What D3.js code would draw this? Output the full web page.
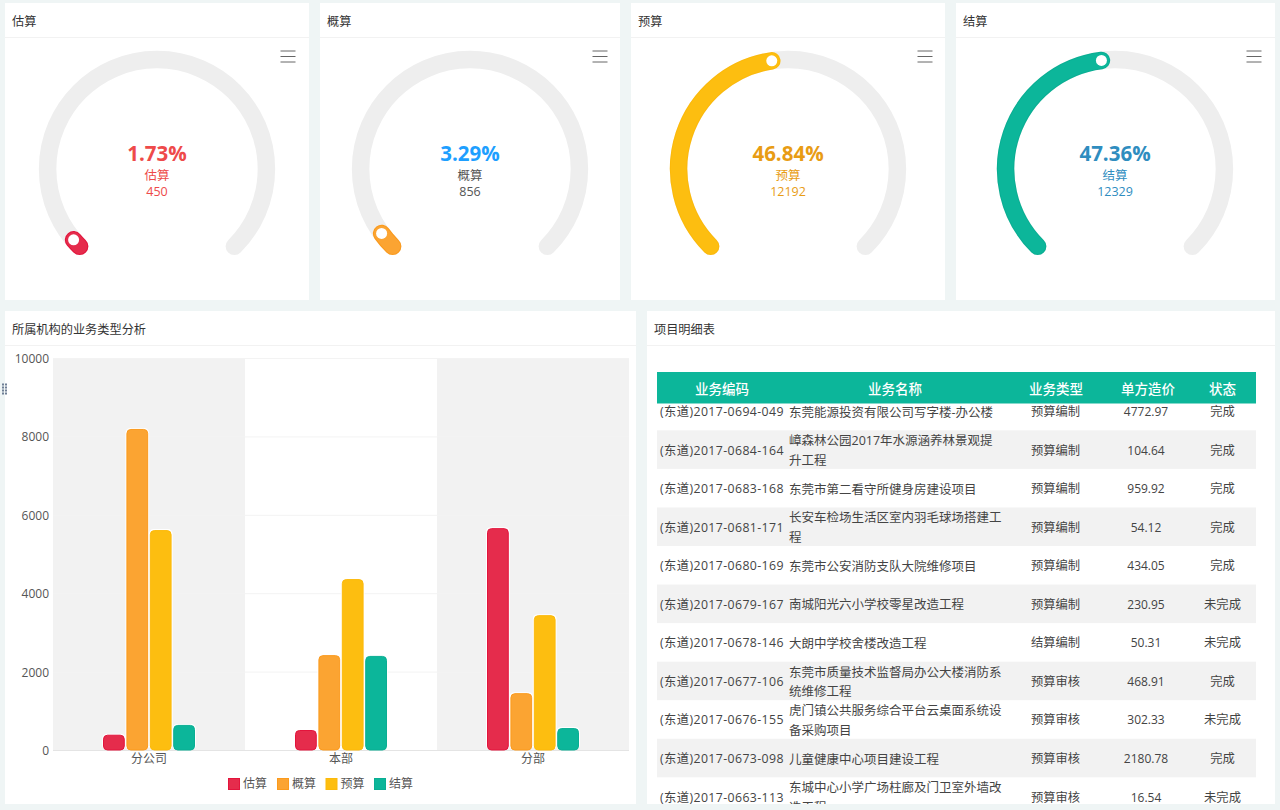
<!DOCTYPE html>
<html>
<head>
<meta charset="utf-8">
<script src="https://cdn.jsdelivr.net/npm/d3@7"></script>
<style>
html, body { margin: 0; padding: 0; background: #eff5f5; overflow: hidden; }
svg { display: block; font-family: "Open Sans", "Noto Sans CJK SC", sans-serif; }
</style>
</head>
<body>
<svg id="page" width="1280" height="810"></svg>
<script>
// gauge cards
const gaugeNames = ["估算", "概算", "预算", "结算"];
const gaugePercents = [1.73, 3.29, 46.84, 47.36];
const gaugeCounts = [450, 856, 12192, 12329];

// bar chart
const orgNames = ["分公司", "本部", "分部"];
const barEstimate = [390, 510, 5660];
const barRough = [8190, 2420, 1450];
const barBudget = [5610, 4360, 3440];
const barSettle = [640, 2400, 560];
const yTicks = [0, 2000, 4000, 6000, 8000, 10000];

// table
const tableTitle = ["业务编码", "业务名称", "业务类型", "单方造价", "状态"];
const rowCodes = ["(东道)2017-0694-049", "(东道)2017-0684-164", "(东道)2017-0683-168", "(东道)2017-0681-171",
  "(东道)2017-0680-169", "(东道)2017-0679-167", "(东道)2017-0678-146", "(东道)2017-0677-106",
  "(东道)2017-0676-155", "(东道)2017-0673-098", "(东道)2017-0663-113"];
const rowNames = [["东莞能源投资有限公司写字楼-办公楼"], ["嶂森林公园2017年水源涵养林景观提", "升工程"],
  ["东莞市第二看守所健身房建设项目"], ["长安车检场生活区室内羽毛球场搭建工", "程"],
  ["东莞市公安消防支队大院维修项目"], ["南城阳光六小学校零星改造工程"], ["大朗中学校舍楼改造工程"],
  ["东莞市质量技术监督局办公大楼消防系", "统维修工程"], ["虎门镇公共服务综合平台云桌面系统设", "备采购项目"],
  ["儿童健康中心项目建设工程"], ["东城中心小学广场柱廊及门卫室外墙改", "造工程"]];
const rowTypes = ["预算编制", "预算编制", "预算编制", "预算编制", "预算编制", "预算编制", "结算编制", "预算审核", "预算审核", "预算审核", "预算审核"];
const rowPrices = ["4772.97", "104.64", "959.92", "54.12", "434.05", "230.95", "50.31", "468.91", "302.33", "2180.78", "16.54"];
const rowStates = ["完成", "完成", "完成", "完成", "完成", "未完成", "未完成", "完成", "未完成", "完成", "未完成"];

// styles
const seriesFill = ["#e52c4c", "#fba432", "#fdbe10", "#0cb69a"];
const seriesEdge = ["#e3143c", "#fb9a1c", "#fcb90a", "#0aae93"];
const gaugeText = ["#ee4a4a", "#1e9fff", "#e89c14", "#2f8dbf"];
const gaugeSub = ["#ee4a4a", "#555555", "#e89c14", "#2f8dbf"];

const svg = d3.select("#page");

function card(x, y, w, h, title) {
  let g = svg.append("g");
  g.append("rect").attr("x", x).attr("y", y).attr("width", w).attr("height", h).attr("fill", "#fff");
  g.append("line").attr("x1", x).attr("x2", x + w).attr("y1", y + 34.5).attr("y2", y + 34.5).attr("stroke", "#f2f2f2");
  g.append("text").attr("x", x + 7).attr("y", y + 22.5).attr("font-size", 12.2).attr("fill", "#333").text(title);
}

// ---- gauges
const gaugeCards = [[5, 304], [320, 300], [631, 314], [956, 319]];
const gaugeCx = [157, 470, 788, 1115];
const menuX = [288, 600, 925, 1254];
const gaugeR = 109.4, gaugeCy = 169;
const angle = d3.scaleLinear().domain([0, 100]).range([-0.75 * Math.PI, 0.75 * Math.PI]);

function arcPath(a0, a1) {
  let p = d3.path();
  p.arc(0, 0, gaugeR, a0 - Math.PI / 2, a1 - Math.PI / 2);
  return p.toString();
}

gaugeNames.forEach(function (name, i) {
  card(gaugeCards[i][0], 3, gaugeCards[i][1], 297, name);
  let g = svg.append("g").attr("transform", `translate(${gaugeCx[i]},${gaugeCy})`);
  g.append("path").attr("d", arcPath(angle(0), angle(100)))
    .attr("fill", "none").attr("stroke", "#eeeeee").attr("stroke-width", 17.5).attr("stroke-linecap", "round");
  let end = angle(gaugePercents[i]);
  g.append("path").attr("d", arcPath(angle(0), end))
    .attr("fill", "none").attr("stroke", seriesEdge[i]).attr("stroke-width", 17.5).attr("stroke-linecap", "round");
  g.append("path").attr("d", arcPath(angle(0), end))
    .attr("fill", "none").attr("stroke", seriesFill[i]).attr("stroke-width", 15.5).attr("stroke-linecap", "round");
  g.append("circle").attr("cx", gaugeR * Math.sin(end)).attr("cy", -gaugeR * Math.cos(end)).attr("r", 5.5).attr("fill", "#fff");

  g.append("text").attr("text-anchor", "middle").attr("y", -8).attr("font-size", 20.5).attr("font-weight", 700)
    .attr("fill", gaugeText[i]).text(gaugePercents[i].toFixed(2) + "%");
  g.append("text").attr("text-anchor", "middle").attr("y", 10.5).attr("font-size", 12.5)
    .attr("fill", gaugeSub[i] == "#555555" ? "#555" : gaugeText[i]).text(name);
  g.append("text").attr("text-anchor", "middle").attr("y", 26.5).attr("font-size", 12.5)
    .attr("fill", gaugeSub[i]).text(gaugeCounts[i]);

  // menu icon
  [51, 56.5, 62].forEach(function (y) {
    svg.append("line").attr("x1", menuX[i] - 7.5).attr("x2", menuX[i] + 7.5).attr("y1", y).attr("y2", y)
      .attr("stroke", "#666").attr("stroke-width", 1);
  });
});

// ---- bar chart
card(5, 311, 631, 493, "所属机构的业务类型分析");

const series = [barEstimate, barRough, barBudget, barSettle];
const x0 = d3.scaleBand().domain(orgNames).range([53, 629]);
const x1 = d3.scaleBand().domain(gaugeNames).range([50, 142]).paddingInner(0.07);
const y = d3.scaleLinear().domain([0, 10000]).range([750, 358]);

orgNames.forEach(function (org, i) {
  if (i % 2 == 0) {
    svg.append("rect").attr("x", x0(org)).attr("y", y(10000)).attr("width", x0.bandwidth())
      .attr("height", y(0) - y(10000)).attr("fill", "#f2f2f2");
  }
});

svg.append("g").selectAll("line").data(yTicks.slice(1)).enter().append("line")
  .attr("x1", 53).attr("x2", 629).attr("y1", d => y(d) + 0.5).attr("y2", d => y(d) + 0.5).attr("stroke", "#f3f3f3");
svg.append("line").attr("x1", 53).attr("x2", 629).attr("y1", y(0) + 0.5).attr("y2", y(0) + 0.5).attr("stroke", "#e4e4e4");

let yAxis = svg.append("g").attr("transform", "translate(53,0.7)")
  .call(d3.axisLeft(y).tickValues(yTicks).tickSize(0).tickPadding(4).tickFormat(d => d));
yAxis.select(".domain").remove();
yAxis.selectAll("text").attr("font-size", 12).attr("font-family", "Open Sans").attr("fill", "#555");

let xAxis = svg.append("g").attr("transform", "translate(0,750)")
  .call(d3.axisBottom(x0).tickSize(0).tickPadding(4));
xAxis.select(".domain").remove();
xAxis.selectAll("text").attr("font-size", 12).attr("font-family", "Noto Sans CJK SC").attr("fill", "#555");

series.forEach(function (values, s) {
  let g = svg.append("g");
  let bars = g.selectAll("g").data(values).enter().append("g");
  // white halo, then the bar
  bars.append("rect")
    .attr("x", (d, i) => x0(orgNames[i]) + x1(gaugeNames[s]) - 1)
    .attr("y", d => y(d) - 1)
    .attr("width", x1.bandwidth() + 2)
    .attr("height", d => y(0) - y(d) + 1)
    .attr("rx", 5).attr("fill", "#fff");
  bars.append("rect")
    .attr("x", (d, i) => x0(orgNames[i]) + x1(gaugeNames[s]) + 0.5)
    .attr("y", d => y(d) + 0.5)
    .attr("width", x1.bandwidth() - 1)
    .attr("height", d => y(0) - y(d) - 0.5)
    .attr("rx", 4)
    .attr("fill", seriesFill[s]).attr("stroke", seriesEdge[s]);
});

// legend
const legendX = [228, 277, 325.5, 374];
gaugeNames.forEach(function (name, i) {
  svg.append("rect").attr("x", legendX[i] + 0.5).attr("y", 778.5).attr("width", 11).attr("height", 11)
    .attr("fill", seriesFill[i]).attr("stroke", seriesEdge[i]);
  svg.append("text").attr("x", legendX[i] + 15).attr("y", 788).attr("font-size", 12).attr("fill", "#555").text(name);
});

// grip on the left edge
d3.range(4).forEach(function (r) {
  [2, 5].forEach(function (gx) {
    svg.append("rect").attr("x", gx).attr("y", 383.5 + r * 3).attr("width", 2).attr("height", 2).attr("fill", "#6f7f95");
  });
});

// ---- table
card(647, 311, 628, 493, "项目明细表");

const rowStep = 38.55, firstRow = 391.8, textDy = rowStep / 2 + 5;
const rowY = d3.scaleLinear().domain([0, 1]).range([firstRow, firstRow + rowStep]);
const rowIdx = d3.range(rowCodes.length);

svg.append("clipPath").attr("id", "tableClip").append("rect")
  .attr("x", 647).attr("y", 403).attr("width", 628).attr("height", 401);

let body = svg.append("g").attr("clip-path", "url(#tableClip)");
let rows = body.selectAll("g").data(rowIdx).enter().append("g")
  .attr("transform", d => `translate(0,${rowY(d)})`)
  .attr("font-size", 12.3).attr("fill", "#444");

rows.filter(d => d % 2 == 1).append("rect")
  .attr("x", 657).attr("width", 599).attr("height", rowStep).attr("fill", "#f2f2f2");
rows.append("text").attr("x", 660).attr("y", textDy).attr("letter-spacing", 0.4).text(d => rowCodes[d]);
rows.each(function (d) {
  let lines = rowNames[d];
  d3.select(this).selectAll("text.name").data(lines).enter().append("text").attr("class", "name")
    .attr("x", 789)
    .attr("y", (l, j) => textDy + 0.5 + (j - (lines.length - 1) / 2) * 19.5)
    .attr("font-size", 12.5)
    .text(l => l);
});
rows.append("text").attr("x", 1055.5).attr("y", textDy).attr("text-anchor", "middle").text(d => rowTypes[d]);
rows.append("text").attr("x", 1146).attr("y", textDy).attr("text-anchor", "middle").attr("font-size", 12).text(d => rowPrices[d]);
rows.append("text").attr("x", 1222.5).attr("y", textDy).attr("text-anchor", "middle").text(d => rowStates[d]);

svg.append("rect").attr("x", 657).attr("y", 372).attr("width", 599).attr("height", 31.5).attr("fill", "#0cb69a");
const headX = [722, 895, 1056, 1148, 1222.5];
svg.append("g").selectAll("text").data(tableTitle).enter().append("text")
  .attr("x", (d, i) => headX[i]).attr("y", 393.5).attr("text-anchor", "middle")
  .attr("font-size", 13.5).attr("font-weight", 500).attr("fill", "#fff").text(d => d);
</script>
</body>
</html>
